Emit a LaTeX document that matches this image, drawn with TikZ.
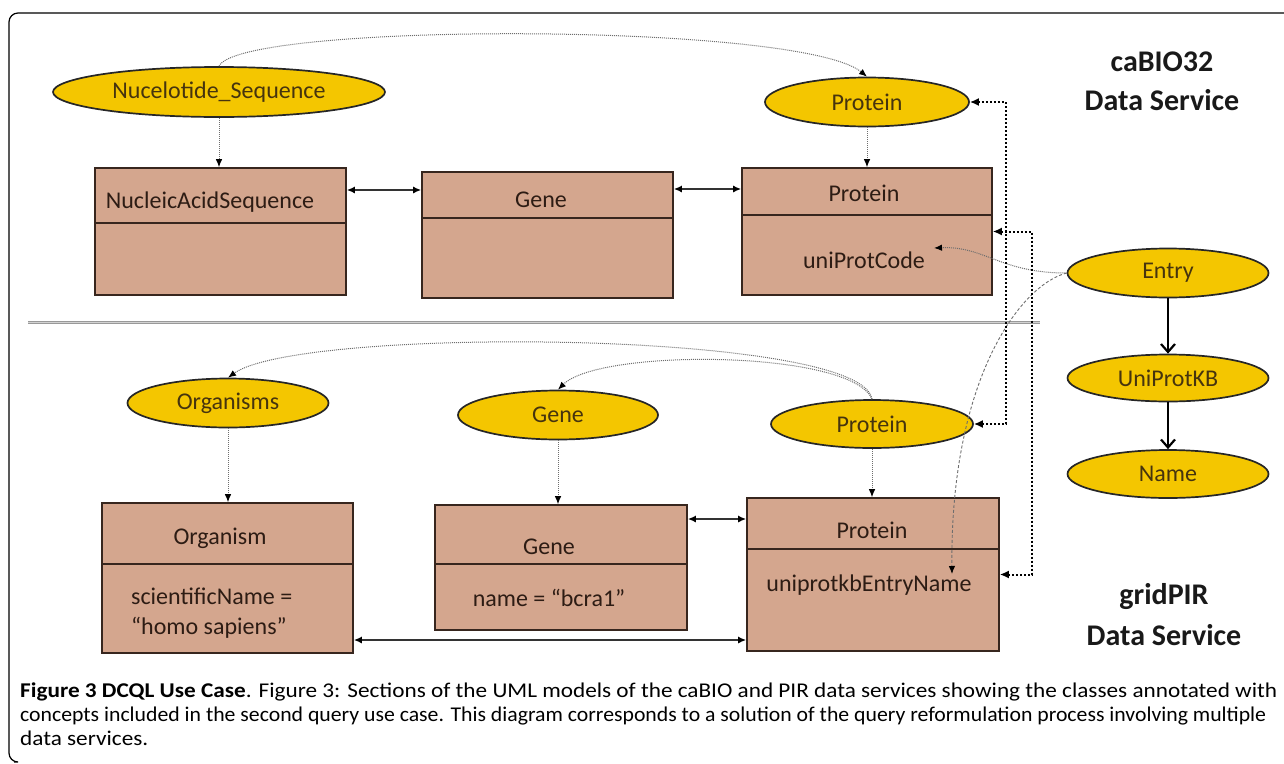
\documentclass[tikz,border=0pt]{standalone}
\usepackage{fontspec}
\usepackage{graphicx}
\setmainfont{Carlito}
\usetikzlibrary{arrows.meta,shapes.geometric}
\definecolor{ellfill}{RGB}{244,198,0}
\definecolor{boxfill}{RGB}{212,166,142}
\definecolor{boxline}{RGB}{55,38,30}
\definecolor{boxtext}{RGB}{45,28,20}
\definecolor{elltext}{RGB}{70,52,14}
\definecolor{dotgray}{RGB}{110,110,110}
\newsavebox\capboxA
\newsavebox\capboxB
\newsavebox\capboxC
\newlength\capw
\begin{document}
\sbox\capboxA{\fontsize{21}{24}\selectfont\textbf{Figure 3 DCQL Use Case}. Figure 3: Sections of the UML models of the caBIO and PIR data services showing the classes annotated with}%
\sbox\capboxB{\fontsize{21}{24}\selectfont concepts included in the second query use case. This diagram corresponds to a solution of the query reformulation process involving multiple}%
\sbox\capboxC{\fontsize{21}{24}\selectfont data services.}%
\setlength\capw{\wd\capboxA}%
\pgfmathsetmacro\capscale{1257/\capw}%
\begin{tikzpicture}[x=1pt,y=-1pt,
  ell/.style={ellipse, draw=black!85, line width=1.7pt, fill=ellfill, inner sep=0pt,
    text=elltext, font=\fontsize{24}{26}\selectfont},
  umlbox/.style={rectangle, draw=boxline, line width=1.6pt, fill=boxfill, inner sep=0pt},
  divline/.style={draw=boxline, line width=1.6pt},
  btext/.style={text=boxtext, font=\fontsize{24}{26}\selectfont, inner sep=0pt},
  svc/.style={text=black!90, font=\bfseries\fontsize{30}{32}\selectfont, inner sep=0pt},
  tip/.style={-{Latex[length=8pt,width=6.5pt,color=black]}},
  dotarrow/.style={draw=dotgray, line width=1pt, dash pattern=on 1pt off 1pt, tip},
  bracket/.style={draw=black, line width=2pt, dash pattern=on 2pt off 2pt,
    {Latex[length=9pt,width=8pt]}-{Latex[length=9pt,width=8pt]}},
  dbl/.style={draw=black!80, line width=1.6pt, {Latex[length=8pt,width=7pt,color=black]}-{Latex[length=8pt,width=7pt,color=black]}},
  solidarrow/.style={draw=black, line width=2.2pt, -{Straight Barb[length=8pt,width=14pt]}},
  thindash/.style={draw=dotgray, line width=0.9pt, dash pattern=on 3pt off 2pt, tip}
]
\useasboundingbox (0,0) rectangle (1284,763);
% frame
\draw[line width=1.2pt, rounded corners=9pt] (1284,13) -- (9,13) -- (9,762) -- (14,762);
% separator
\draw[gray!80, line width=3pt] (28,322) -- (1040,322);
\draw[gray!35, line width=0.8pt] (28,322) -- (1040,322);

% ellipses
\node[ell, minimum width=332pt, minimum height=50pt] (nuc) at (219,92) {Nucelotide\_Sequence};
\node[ell, minimum width=204pt, minimum height=49pt] (protEU) at (867,102) {Protein};
\node[ell, minimum width=201pt, minimum height=49pt] (entry) at (1168,273) {Entry};
\node[ell, minimum width=201pt, minimum height=47pt] (uniprot) at (1168,378) {UniProtKB};
\node[ell, minimum width=201pt, minimum height=48pt] (name) at (1168,474) {Name};
\node[ell, minimum width=201pt, minimum height=49pt] (orgs) at (228,403) {Organisms};
\node[ell, minimum width=200pt, minimum height=49pt] (geneE) at (558,415) {Gene};
\node[ell, minimum width=202pt, minimum height=48pt] (protEL) at (872,424) {Protein};

% boxes
\node[umlbox, minimum width=251pt, minimum height=127pt] (nas) at (220.5,231.5) {};
\node[umlbox, minimum width=251pt, minimum height=126pt] (geneU) at (547.5,235) {};
\node[umlbox, minimum width=250pt, minimum height=127pt] (protU) at (867,231.5) {};
\node[umlbox, minimum width=251pt, minimum height=150pt] (org) at (227.5,578) {};
\node[umlbox, minimum width=252pt, minimum height=125pt] (geneL) at (561,567.5) {};
\node[umlbox, minimum width=252pt, minimum height=153pt] (protL) at (873,574.5) {};
\draw[divline] (nas.west |- 0,223) -- (nas.east |- 0,223);
\draw[divline] (geneU.west |- 0,218) -- (geneU.east |- 0,218);
\draw[divline] (protU.west |- 0,215) -- (protU.east |- 0,215);
\draw[divline] (org.west |- 0,564) -- (org.east |- 0,564);
\draw[divline] (geneL.west |- 0,564) -- (geneL.east |- 0,564);
\draw[divline] (protL.west |- 0,549) -- (protL.east |- 0,549);

% box texts
\node[btext] (nasT) at (210,202) {NucleicAcidSequence};
\node[btext] (geneUT) at (541,200) {Gene};
\node[btext] (protUT) at (864,193) {Protein};
\node[btext] (upc) at (864,260) {uniProtCode};
\node[btext] (orgT) at (220,538) {Organism};
\node[btext, anchor=base west] (orgA1) at (131,604) {scientificName =};
\node[btext, anchor=base west] (orgA2) at (131,634) {“homo sapiens”};
\node[btext] (geneLT) at (549,547) {Gene};
\node[btext] (geneLA) at (549,598) {name = “bcra1”};
\node[btext] (protLT) at (872,530) {Protein};
\node[btext] (uen) at (869,585) {uniprotkbEntryName};
\coordinate (upcTip) at (934,248);
\coordinate (uenTip) at (952,574);

% service labels
\node[svc] (cabio) at (1162,62) {caBIO32};
\node[svc] (cabioDS) at (1162,100) {Data Service};
\node[svc] (gridpir) at (1164,597) {gridPIR};
\node[svc] (gridpirDS) at (1164,635) {Data Service};

% dotted ellipse -> box
\draw[dotarrow] (nuc.south) -- (nuc.south |- nas.north);
\draw[dotarrow] (protEU.south) -- (protEU.south |- protU.north);
\draw[dotarrow] (orgs.south) -- (orgs.south |- org.north);
\draw[dotarrow] (geneE.south) -- (geneE.south |- geneL.north);
\draw[dotarrow] (protEL.south) -- (protEL.south |- protL.north);

% curved dotted arrows
\draw[dotarrow] (nuc.north) .. controls (240,22) and (800,22) .. (protEU.north);
\draw[dotarrow] (protEL.north) .. controls (862,330) and (300,326) .. (orgs.north);
\draw[dotarrow] (protEL.north) .. controls (852,350) and (600,348) .. (geneE.north);
\draw[dotarrow] (entry.west) .. controls (1000,273) and (985,246) .. (upcTip);
\draw[thindash] (entry.west) .. controls (1020,285) and (950,380) .. (uenTip);

% brackets
\draw[bracket] (protEU.east) -- ++(36,0) |- (protEL.east);
\draw[bracket] (protU.east) -- ++(39,0) |- (protL.east);

% solid arrows
\draw[solidarrow] (entry.south) -- (uniprot.north);
\draw[solidarrow] (uniprot.south) -- (name.north);

% associations
\draw[dbl] (nas.east |- 0,190) -- (geneU.west |- 0,190);
\draw[dbl] (geneU.east |- 0,189) -- (protU.west |- 0,189);
\draw[dbl] (geneL.east |- 0,519) -- (protL.west |- 0,519);
\draw[dbl] (org.east |- 0,640) -- (protL.west |- 0,640);

% caption
\node[anchor=base west, inner sep=0pt, text=black!85] (cap1) at (20,697) {\scalebox{\capscale}[1]{\usebox\capboxA}};
\node[anchor=base west, inner sep=0pt, text=black!85] (cap2) at (20,721) {\resizebox{1246pt}{\height}{\usebox\capboxB}};
\node[anchor=base west, inner sep=0pt, text=black!85] (cap3) at (20,745) {\scalebox{\capscale}[1]{\usebox\capboxC}};
\end{tikzpicture}
\end{document}
